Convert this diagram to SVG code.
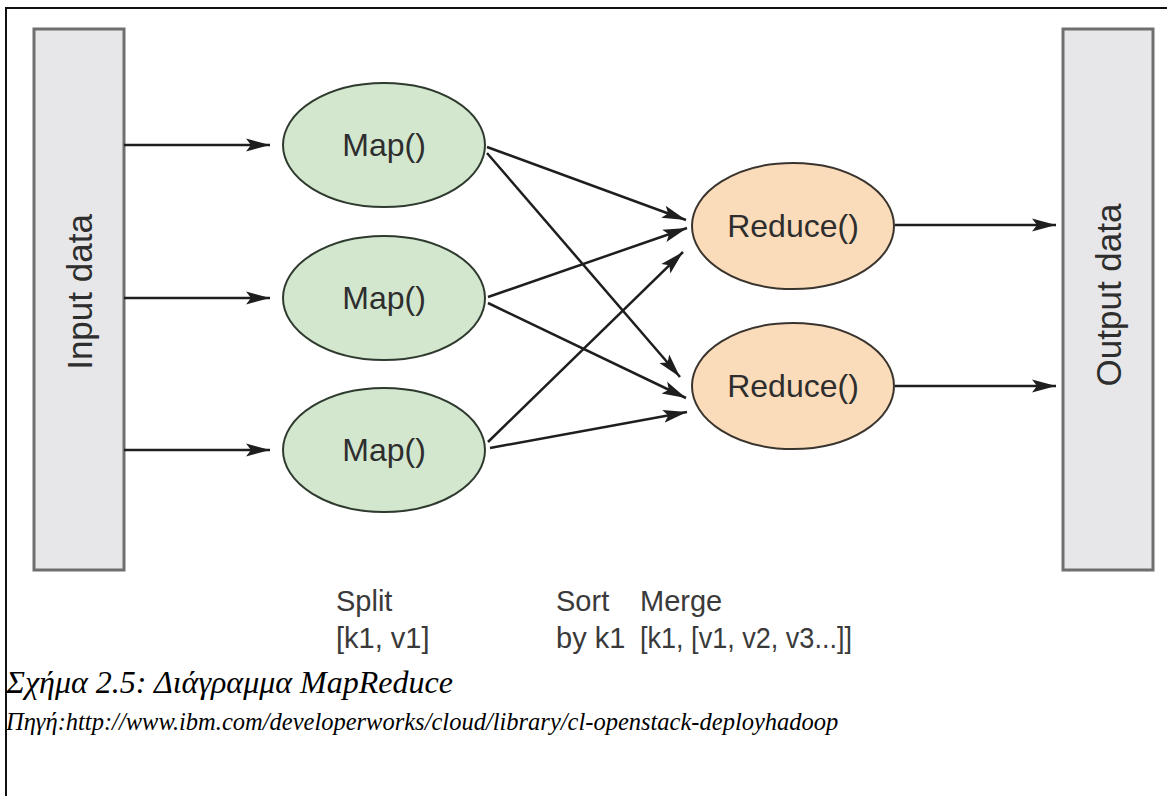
<svg xmlns="http://www.w3.org/2000/svg" width="1167" height="796" viewBox="0 0 1167 796">
  <style>
    .box { fill: #e7e7e9; stroke: #6f6f6f; stroke-width: 3; }
    .map { fill: #d3e7cf; stroke: #2f3a2f; stroke-width: 2; }
    .reduce { fill: #fbdcba; stroke: #3a342e; stroke-width: 2; }
    .lbl { font-family: "Liberation Sans", Arial, Helvetica, sans-serif; font-size: 32px; fill: #2e2e2e; }
    .vlbl { font-family: "Liberation Sans", Arial, Helvetica, sans-serif; font-size: 35px; fill: #2e2e2e; }
    .step { font-family: "Liberation Sans", Arial, Helvetica, sans-serif; font-size: 29px; fill: #3a3a3a; }
    .cap { font-family: "Liberation Serif", "Times New Roman", serif; font-style: italic; fill: #000; }
    .conn line { stroke: #1e1e1e; stroke-width: 2.5; marker-end: url(#arrow); }
  </style>
  <defs>
    <marker id="arrow" markerUnits="userSpaceOnUse" markerWidth="26" markerHeight="16" refX="24" refY="8" orient="auto">
      <path d="M0,1.5 L24,8 L0,14.5 L5,8 z" fill="#1e1e1e"/>
    </marker>
  </defs>

  <rect width="1167" height="796" fill="#ffffff"/>
  <!-- frame -->
  <path d="M6,796 V8 H1167" fill="none" stroke="#111" stroke-width="2"/>

  <g id="input-data">
    <rect class="box" x="34" y="29" width="90" height="541"/>
    <text class="vlbl" transform="translate(79,292) rotate(-90)" text-anchor="middle" dominant-baseline="central">Input data</text>
  </g>

  <g id="output-data">
    <rect class="box" x="1063" y="29" width="90" height="541"/>
    <text class="vlbl" transform="translate(1108,295) rotate(-90)" text-anchor="middle" dominant-baseline="central">Output data</text>
  </g>

  <g id="map1">
    <ellipse class="map" cx="384" cy="145" rx="101" ry="62"/>
    <text class="lbl" x="384" y="145" text-anchor="middle" dominant-baseline="central">Map()</text>
  </g>
  <g id="map2">
    <ellipse class="map" cx="384" cy="298" rx="101" ry="62"/>
    <text class="lbl" x="384" y="298" text-anchor="middle" dominant-baseline="central">Map()</text>
  </g>
  <g id="map3">
    <ellipse class="map" cx="384" cy="450" rx="101" ry="62"/>
    <text class="lbl" x="384" y="450" text-anchor="middle" dominant-baseline="central">Map()</text>
  </g>

  <g id="reduce1">
    <ellipse class="reduce" cx="793" cy="226" rx="101" ry="63"/>
    <text class="lbl" x="793" y="226" text-anchor="middle" dominant-baseline="central">Reduce()</text>
  </g>
  <g id="reduce2">
    <ellipse class="reduce" cx="793" cy="386" rx="101" ry="63"/>
    <text class="lbl" x="793" y="386" text-anchor="middle" dominant-baseline="central">Reduce()</text>
  </g>

  <g id="connectors" class="conn">
    <line x1="124" y1="145" x2="270" y2="145"/>
    <line x1="124" y1="298" x2="270" y2="298"/>
    <line x1="124" y1="450" x2="270" y2="450"/>
    <line x1="487" y1="147" x2="686" y2="220"/>
    <line x1="487" y1="153" x2="680" y2="377"/>
    <line x1="488" y1="297" x2="687" y2="228"/>
    <line x1="488" y1="303" x2="686" y2="398"/>
    <line x1="488" y1="442" x2="683" y2="252"/>
    <line x1="490" y1="448" x2="687" y2="412"/>
    <line x1="895" y1="225" x2="1056" y2="225"/>
    <line x1="895" y1="386" x2="1056" y2="386"/>
  </g>

  <g id="phase-labels">
    <text class="step" x="336" y="611">Split</text>
    <text class="step" x="336" y="648">[k1, v1]</text>
    <text class="step" x="556" y="611">Sort</text>
    <text class="step" x="556" y="648">by k1</text>
    <text class="step" x="640" y="611">Merge</text>
    <text class="step" x="640" y="648" textLength="212" lengthAdjust="spacingAndGlyphs">[k1, [v1, v2, v3...]]</text>
  </g>

  <g id="caption">
    <text class="cap" x="6" y="693" font-size="32">Σχήμα 2.5: Διάγραμμα MapReduce</text>
    <text class="cap" x="6" y="730" font-size="24.5">Πηγή:http://www.ibm.com/developerworks/cloud/library/cl-openstack-deployhadoop</text>
  </g>
</svg>
